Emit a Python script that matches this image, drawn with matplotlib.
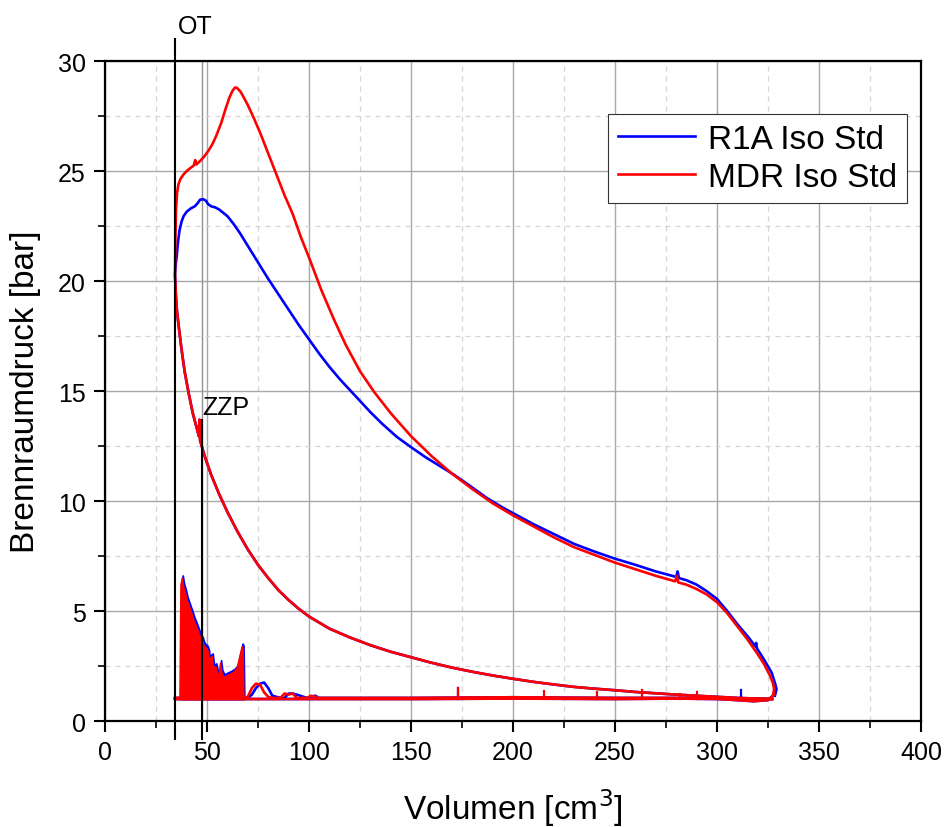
import matplotlib
matplotlib.use("Agg")
import matplotlib.pyplot as plt
from matplotlib.ticker import MultipleLocator

plt.rcParams['font.family'] = ['Liberation Sans', 'DejaVu Sans']

# ---------------- data ----------------
series_names = ["R1A Iso Std", "MDR Iso Std"]
series_colors = ["#0000ff", "#ff0000"]

# compression stroke (BDC -> TDC), both series nearly identical
comp_V = [327, 320, 310, 300, 290, 280, 270, 260, 250, 240, 230, 220, 210, 200, 190, 180, 170,
          160, 150, 140, 130, 120, 110, 100, 95, 90, 85, 80, 75, 70, 65, 60, 56, 52, 49, 47.4,
          46.6, 46.3, 46.0, 45, 43, 41, 39, 37.5, 36.3, 35.3, 34.7, 34.3]
comp_p = [1.0, 1.02, 1.05, 1.1, 1.15, 1.2, 1.26, 1.32, 1.4, 1.47, 1.55, 1.66, 1.78, 1.92, 2.07,
          2.24, 2.43, 2.65, 2.9, 3.15, 3.45, 3.8, 4.2, 4.75, 5.1, 5.5, 5.95, 6.5, 7.1, 7.8, 8.6,
          9.5, 10.3, 11.2, 12.0, 12.5, 12.75, 13.7, 12.95, 13.3, 14.0, 14.9, 15.9, 16.9, 17.8,
          18.6, 19.4, 20.3]

# expansion stroke R1A (blue)
exp_V_r1a = [34.3, 34.6, 35.2, 35.8, 36.5, 37.5, 38.5, 40, 42, 44, 45.5, 46.6, 48.2, 49.5, 50.5,
             52, 54, 56, 58, 60, 63, 66, 70, 75, 80, 85, 90, 95, 100, 105, 110, 115, 120, 125,
             130, 136, 143, 150, 157, 164, 171, 178, 187, 195, 200, 210, 220, 230, 240, 250, 260,
             270, 280, 280.7, 281.3, 285, 290, 295, 300, 305, 310, 315, 318.8, 319.2, 319.6, 323,
             326.8, 328.5, 329.2, 328.4]
exp_p_r1a = [20.3, 20.7, 21.2, 21.8, 22.3, 22.7, 22.95, 23.15, 23.3, 23.4, 23.55, 23.7, 23.72,
             23.65, 23.5, 23.4, 23.35, 23.25, 23.1, 22.95, 22.6, 22.2, 21.6, 20.85, 20.1, 19.4,
             18.7, 18.0, 17.35, 16.7, 16.1, 15.55, 15.05, 14.55, 14.05, 13.5, 12.92, 12.45, 12.0,
             11.6, 11.2, 10.75, 10.15, 9.7, 9.45, 8.95, 8.5, 8.05, 7.7, 7.38, 7.1, 6.8, 6.55, 6.8,
             6.5, 6.4, 6.2, 5.9, 5.55, 5.0, 4.4, 3.85, 3.4, 3.55, 3.3, 2.8, 2.2, 1.7, 1.45, 1.15]

# expansion stroke MDR (red)
exp_V_mdr = [34.3, 34.5, 34.8, 35.3, 36, 37, 38.5, 40, 42, 43.5, 44.2, 44.8, 46.5, 48.5, 50.5,
             52.5, 54.5, 57, 59, 61, 62.5, 63.7, 64.7, 65.5, 66.5, 68, 70, 72.5, 76, 80, 84, 88,
             92, 96, 100.5, 106, 112, 118, 125, 132, 140, 150, 160, 170, 180, 190, 200, 210, 220,
             230, 240, 250, 260, 270, 279.5, 280.3, 281, 285, 290, 295, 300, 305, 310, 315, 319.5,
             323, 326, 327.5, 328, 327.5, 327]
exp_p_mdr = [20.3, 22.0, 23.3, 24.0, 24.4, 24.65, 24.85, 25.0, 25.15, 25.25, 25.5, 25.3, 25.45,
             25.65, 25.9, 26.2, 26.6, 27.2, 27.8, 28.35, 28.65, 28.8, 28.78, 28.7, 28.6, 28.35,
             28.0, 27.5, 26.75, 25.8, 24.85, 23.9, 23.05, 22.0, 20.95, 19.6, 18.3, 17.1, 15.9,
             14.95, 14.0, 12.95, 12.05, 11.25, 10.55, 9.9, 9.35, 8.85, 8.35, 7.9, 7.55, 7.2, 6.9,
             6.6, 6.35, 6.6, 6.3, 6.2, 6.0, 5.75, 5.4, 4.9, 4.3, 3.7, 3.1, 2.6, 2.06, 1.7, 1.45,
             1.2, 1.1]

# gas exchange: exhaust and intake lines
exh_V = [328, 325, 318, 310, 300, 280, 250, 200, 150, 100, 70, 50, 40, 34.3]
exh_p = [1.2, 0.95, 0.9, 0.95, 1.0, 1.02, 1.0, 1.02, 1.0, 1.0, 1.0, 1.0, 1.0, 1.0]
int_V = [34.3, 67.6, 70, 72, 74, 76, 78, 80, 82, 86, 88, 90, 92, 94, 99, 101, 103, 105, 150, 200,
         250, 300, 327]
int_p_mdr = [1.05, 1.05, 1.1, 1.5, 1.7, 1.65, 1.3, 1.1, 1.05, 1.05, 1.25, 1.2, 1.25, 1.05, 1.05,
             1.15, 1.1, 1.05, 1.05, 1.08, 1.05, 1.05, 1.0]
int_p_r1a = [1.05, 1.05, 1.05, 1.2, 1.5, 1.7, 1.75, 1.5, 1.15, 1.05, 1.05, 1.25, 1.25, 1.2, 1.05,
             1.1, 1.15, 1.05, 1.05, 1.08, 1.05, 1.05, 1.0]

# pressure pulsations after OT (envelope of the dense oscillation)
puls_V = [36.5, 37.0, 37.6, 38.3, 39.0, 40.0, 40.8, 41.5, 42.3, 43.3, 44.2, 45.0, 45.8, 46.6, 47.4,
          48.0, 48.6, 49.8, 50.5, 51.0, 51.6, 52.3, 53.0, 54.0, 55.0, 55.8, 56.4, 57.0, 58.0, 60.0,
          61.3, 63.0, 64.5, 66.0, 67.0, 67.4, 67.8]
puls_p = [1.0, 6.2, 6.5, 6.1, 5.9, 5.5, 5.3, 5.1, 4.9, 4.6, 4.4, 4.2, 4.0, 3.8, 3.7, 3.5, 3.4, 3.3,
          3.1, 2.6, 2.9, 2.95, 2.4, 2.5, 2.1, 2.2, 2.65, 2.2, 2.0, 2.1, 2.15, 2.25, 2.4, 3.0, 3.4,
          3.3, 1.05]

# small spikes on the intake line: (V, top pressure)
spike_V_mdr = [173, 215, 241, 263, 282, 290]
spike_p_mdr = [1.5, 1.35, 1.3, 1.4, 1.25, 1.3]
spike_V_r1a = [173, 312]
spike_p_r1a = [1.5, 1.4]

V_OT = 34.3
V_ZZP = 47.4
p_ZZP_top = 13.7

# ---------------- figure ----------------
fig = plt.figure(figsize=(9.48, 8.28), dpi=100)
ax = fig.add_axes([0.1108, 0.128, 0.8607, 0.797])

ax.set_xlim(0, 400)
ax.set_ylim(0, 30)
ax.xaxis.set_major_locator(MultipleLocator(50))
ax.xaxis.set_minor_locator(MultipleLocator(25))
ax.yaxis.set_major_locator(MultipleLocator(5))
ax.yaxis.set_minor_locator(MultipleLocator(2.5))
ax.grid(which='major', color='#a8a8a8', linewidth=1.0, linestyle='-')
ax.grid(which='minor', color='#d4d4d4', linewidth=0.9, linestyle=(0, (4, 4)))
ax.set_axisbelow(True)

for s in ax.spines.values():
    s.set_linewidth(1.6)
ax.tick_params(which='major', direction='out', length=8, width=1.5, labelsize=18, pad=6)
ax.tick_params(which='minor', direction='out', length=5, width=1.2)

ax.set_xlabel("Volumen [cm$^3$]", fontsize=24, labelpad=16)
ax.set_ylabel("Brennraumdruck [bar]", fontsize=24, labelpad=12)

# ZZP grey full-height line
ax.axvline(V_ZZP, color='#909090', linewidth=1.0, zorder=1)

lw = 1.9
data = [
    (exp_V_r1a, exp_p_r1a, int_p_r1a, spike_V_r1a, spike_p_r1a, 0.12, 0.5),
    (exp_V_mdr, exp_p_mdr, int_p_mdr, spike_V_mdr, spike_p_mdr, 0.0, 0.0),
]
for (eV, ep, ip, sV, sp, dp, dV), name, col in zip(data, series_names, series_colors):
    V_hp = comp_V + eV
    p_hp = comp_p + ep
    ax.plot(V_hp, p_hp, color=col, linewidth=lw, label=name, zorder=3)
    ax.plot(exh_V, exh_p, color=col, linewidth=lw, zorder=3)
    ax.plot(int_V, ip, color=col, linewidth=lw, zorder=3)
    pv = [v + dV for v in puls_V]
    pp = [p + (dp if p > 1.1 else 0) for p in puls_p]
    ax.fill_between(pv, 1.0, pp, color=col, linewidth=1.2, edgecolor=col, zorder=3)
    for v, p in zip(sV, sp):
        ax.plot([v, v], [1.0, p], color=col, linewidth=1.6, zorder=3)

# OT and ZZP markers
ax.plot([V_OT, V_OT], [-0.8, 31.0], color='black', linewidth=1.5, clip_on=False, zorder=4)
ax.plot([V_ZZP, V_ZZP], [-0.8, p_ZZP_top], color='black', linewidth=1.5, clip_on=False, zorder=4)
ax.text(35.8, 31.3, "OT", fontsize=18, ha='left', va='baseline', clip_on=False)
ax.text(47.5, 13.95, "ZZP", fontsize=18, ha='left', va='baseline')

leg = ax.legend(loc='upper right', bbox_to_anchor=(0.983, 0.92), bbox_transform=ax.transAxes,
                fontsize=24, frameon=True, fancybox=False, framealpha=1, borderaxespad=0,
                labelspacing=0.2, borderpad=0.3, handlelength=2.3, handletextpad=0.4)
leg.get_frame().set_edgecolor('#333333')
leg.get_frame().set_linewidth(0.8)

fig.savefig("out.png", dpi=100)
